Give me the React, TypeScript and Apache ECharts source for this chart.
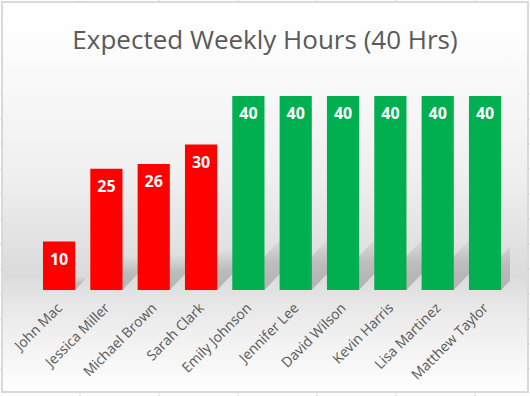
import React, { useEffect, useRef } from "react";
import * as echarts from "echarts";

const titleText = "Expected Weekly Hours (40 Hrs)";
const names = [
  "John Mac",
  "Jessica Miller",
  "Michael Brown",
  "Sarah Clark",
  "Emily Johnson",
  "Jennifer Lee",
  "David Wilson",
  "Kevin Harris",
  "Lisa Martinez",
  "Matthew Taylor",
];
const hours = [10, 25, 26, 30, 40, 40, 40, 40, 40, 40];
const target = 40;

const RED = "#FF0000";
const GREEN = "#00B050";
const FONT = "'Open Sans', 'Noto Sans', sans-serif";

export default function App() {
  const ref = useRef<HTMLDivElement>(null);
  useEffect(() => {
    if (!ref.current) return;
    const chart = echarts.init(ref.current, undefined, { renderer: "svg" });
    const gridLines: any[] = [];
    const cols = [80, 159, 238, 317, 396, 475];
    cols.forEach((x) => {
      gridLines.push({ type: "line", shape: { x1: x, y1: 0, x2: x, y2: 1 }, style: { stroke: "#d9d9d9", lineWidth: 1 }, z: 0 });
      gridLines.push({ type: "line", shape: { x1: x, y1: 393, x2: x, y2: 396 }, style: { stroke: "#d9d9d9", lineWidth: 1 }, z: 0 });
    });
    for (let y = 94; y <= 370; y += 25) {
      gridLines.push({ type: "line", shape: { x1: 0, y1: y, x2: 1, y2: y }, style: { stroke: "#d9d9d9", lineWidth: 1 }, z: 0 });
      gridLines.push({ type: "line", shape: { x1: 529, y1: y, x2: 530, y2: y }, style: { stroke: "#d9d9d9", lineWidth: 1 }, z: 0 });
    }
    const bgRect = {
      type: "rect",
      shape: { x: 2, y: 2, width: 526, height: 390 },
      style: {
        fill: new echarts.graphic.LinearGradient(0, 0, 0, 1, [
          { offset: 0, color: "#ffffff" },
          { offset: 0.12, color: "#fcfcfc" },
          { offset: 0.45, color: "#efefef" },
          { offset: 0.7, color: "#dbdbdb" },
          { offset: 0.745, color: "#e2e2e2" },
          { offset: 0.78, color: "#e8e8e8" },
          { offset: 1, color: "#ffffff" },
        ]),
        stroke: "#d9d9d9",
        lineWidth: 2,
      },
      z: -10,
      silent: true,
    };
    const option: any = {
      animation: false,
      backgroundColor: "#ffffff",
      title: {
        text: titleText,
        left: "center",
        top: 21,
        textStyle: { fontSize: 26, fontWeight: "normal", color: "#595959", fontFamily: FONT },
      },
      graphic: [bgRect, ...gridLines],
      grid: { left: 35.4, right: 21.3, top: 71.75, bottom: 106 },
      xAxis: {
        type: "category",
        data: names,
        axisLine: { show: false },
        axisTick: { show: false },
        axisLabel: {
          rotate: 45,
          interval: 0,
          margin: 15,
          fontSize: 14,
          color: "#595959",
          fontFamily: FONT,
        },
      },
      yAxis: {
        type: "value",
        min: 0,
        max: 45,
        interval: 5,
        show: false,
        splitLine: { show: false },
      },
      series: [
        {
          type: "custom",
          z: 1,
          clip: true,
          data: hours.map((v, i) => [i, v]),
          renderItem: (params: any, api: any) => {
            const i = api.value(0);
            const v = api.value(1);
            const base = api.coord([i, 0]);
            const top = api.coord([i, v]);
            const band = api.size([1, 0])[0];
            const bw = band * 0.68;
            const x0 = base[0] - bw / 2;
            const x1 = base[0] + bw / 2;
            const by = base[1];
            const h = (base[1] - top[1]) * 0.28;
            const dx = h * 0.95;
            return {
              type: "polygon",
              shape: {
                points: [
                  [x0, by],
                  [x1, by],
                  [x1 + dx, by - h],
                  [x0 + dx, by - h],
                ],
              },
              style: {
                fill: new echarts.graphic.LinearGradient(0, 0, 0, 1, [
                  { offset: 0, color: "rgba(120,120,120,0)" },
                  { offset: 0.5, color: "rgba(120,120,120,0.32)" },
                  { offset: 1, color: "rgba(120,120,120,0.42)" },
                ]),
              },
            };
          },
        },
        {
          type: "bar",
          z: 2,
          barCategoryGap: "32%",
          data: hours.map((v) => ({
            value: v,
            itemStyle: { color: v < target ? RED : GREEN },
          })),
          label: {
            show: true,
            position: "insideTop",
            distance: 9,
            color: "#ffffff",
            fontSize: 16,
            fontWeight: "bold",
            fontFamily: FONT,
          },
        },
      ],
    };
    chart.setOption(option);
    return () => chart.dispose();
  }, []);
  return (
    <div
      ref={ref}
      style={{ position: "absolute", left: 0, top: 0, width: 530, height: 396 }}
    />
  );
}
